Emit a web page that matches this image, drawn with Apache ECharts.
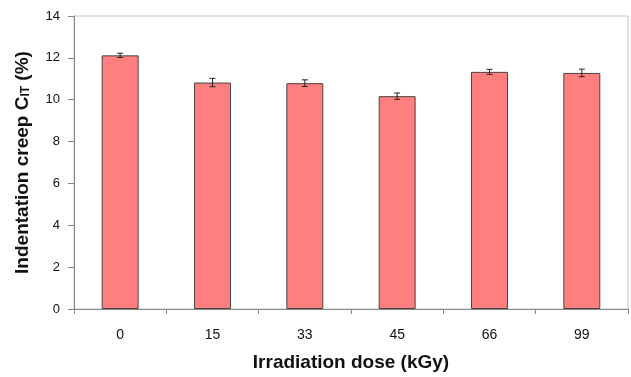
<!DOCTYPE html>
<html>
<head>
<meta charset="utf-8">
<script src="https://cdn.jsdelivr.net/npm/echarts@6/dist/echarts.min.js"></script>
<style>
  html, body { margin: 0; padding: 0; background: #fff; }
  #chart { width: 631px; height: 377px; }
</style>
</head>
<body>
<div id="chart"></div>
<script>
// Irradiation dose categories (kGy)
const doses = ['0', '15', '33', '45', '66', '99'];
// Mean indentation creep C_IT (%)
const creep = [12.12, 10.82, 10.79, 10.17, 11.33, 11.28];
// Standard deviation for each dose
const creepErr = [0.10, 0.20, 0.16, 0.15, 0.12, 0.18];
// Y axis ticks
const yMin = 0, yMax = 14, yStep = 2;

const errorData = creep.map((v, i) => [i, v - creepErr[i], v + creepErr[i]]);

const chart = echarts.init(document.getElementById('chart'), null, { renderer: 'canvas' });

chart.setOption({
  animation: false,
  backgroundColor: '#ffffff',
  grid: {
    left: 74, right: 3, top: 16, bottom: 66,
    show: true, borderColor: '#c4c4c4', borderWidth: 1, backgroundColor: 'transparent'
  },
  xAxis: {
    type: 'category',
    data: doses,
    name: 'Irradiation dose (kGy)',
    nameLocation: 'middle',
    nameGap: 44,
    nameTextStyle: { fontFamily: 'Liberation Sans', fontSize: 19, fontWeight: 'bold', color: '#111' },
    axisLine: { lineStyle: { color: '#888', width: 1 } },
    axisTick: { show: true, length: 5, alignWithLabel: false, lineStyle: { color: '#888' } },
    axisLabel: { margin: 19, fontFamily: 'Liberation Sans', fontSize: 14, color: '#111' },
    splitLine: { show: false }
  },
  yAxis: {
    type: 'value',
    min: yMin, max: yMax, interval: yStep,
    name: 'Indentation creep C{sub|IT} (%)',
    nameLocation: 'middle',
    nameGap: 42,
    nameTextStyle: {
      fontFamily: 'Liberation Sans', fontSize: 19, fontWeight: 'bold', color: '#111',
      rich: {
        sub: { fontFamily: 'Liberation Sans', fontSize: 12, fontWeight: 'bold', color: '#111', verticalAlign: 'bottom', padding: [7, 0, 0, 0] }
      }
    },
    axisLine: { show: true, lineStyle: { color: '#888', width: 1 } },
    axisTick: { show: true, length: 6, lineStyle: { color: '#888' } },
    axisLabel: { margin: 14, fontFamily: 'Liberation Sans', fontSize: 13, color: '#111' },
    splitLine: { show: false }
  },
  series: [
    {
      type: 'bar',
      data: creep,
      barWidth: '40%',
      itemStyle: { color: '#ff7f7f', borderColor: '#4a4040', borderWidth: 1 },
      z: 2
    },
    {
      type: 'custom',
      data: errorData,
      z: 3,
      renderItem: function (params, api) {
        const x = api.value(0);
        const lo = api.coord([x, api.value(1)]);
        const hi = api.coord([x, api.value(2)]);
        const cap = 3;
        const style = { stroke: '#222', lineWidth: 1 };
        return {
          type: 'group',
          children: [
            { type: 'line', shape: { x1: lo[0], y1: lo[1], x2: hi[0], y2: hi[1] }, style: style },
            { type: 'line', shape: { x1: lo[0] - cap, y1: lo[1], x2: lo[0] + cap, y2: lo[1] }, style: style },
            { type: 'line', shape: { x1: hi[0] - cap, y1: hi[1], x2: hi[0] + cap, y2: hi[1] }, style: style }
          ]
        };
      }
    }
  ]
});
</script>
</body>
</html>
